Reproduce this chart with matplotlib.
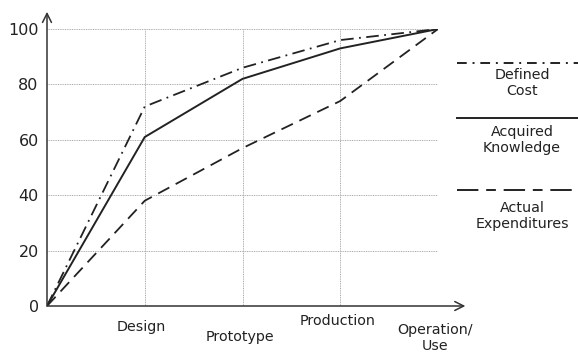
import matplotlib
matplotlib.use("Agg")
import matplotlib.pyplot as plt
from matplotlib.lines import Line2D

phases = ["Design", "Prototype", "Production", "Operation/\nUse"]
x_vals = [0, 1, 2, 3, 4]
defined_cost = [0, 72, 86, 96, 100]
acquired_knowledge = [0, 61, 82, 93, 100]
actual_expenditures = [0, 38, 57, 74, 100]
y_ticks = [0, 20, 40, 60, 80, 100]
legend_labels = ["Defined\nCost", "Acquired\nKnowledge", "Actual\nExpenditures"]

W, H = 578, 356
fig = plt.figure(figsize=(W / 100, H / 100), dpi=100)
plt.rcParams['font.family'] = ['DejaVu Sans']
ax = fig.add_axes([47 / W, (H - 306) / H, (438 - 47) / W, (306 - 29) / H])
ax.set_xlim(0, 4)
ax.set_ylim(0, 100)
for s in ax.spines.values():
    s.set_visible(False)

ax.set_yticks(y_ticks)
ax.set_yticklabels([str(v) for v in y_ticks], fontsize=11.5, color="#222222")
ax.tick_params(axis='y', length=0, pad=6)
ax.set_xticks([])

# gridlines
for yv in y_ticks[1:]:
    ax.plot([0, 4], [yv, yv], ls=(0, (1, 0.8)), lw=0.7, color="#aaaaaa", zorder=1)
for xv in x_vals[1:]:
    ax.plot([xv, xv], [0, 100], ls=(0, (1, 0.8)), lw=0.7, color="#aaaaaa", zorder=1)

ax.plot(x_vals, defined_cost, color="#222222", lw=1.3, ls=(0, (7, 3, 1, 3)), zorder=3)
ax.plot(x_vals, acquired_knowledge, color="#222222", lw=1.4, ls="-", zorder=3)
ax.plot(x_vals, actual_expenditures, color="#222222", lw=1.3, ls=(0, (7, 4)), zorder=3)

# axes arrows
ax.annotate("", xy=(0, 1.062), xytext=(0, 0), xycoords="axes fraction",
            arrowprops=dict(arrowstyle="->", lw=1.1, color="#333333",
                            shrinkA=0, shrinkB=0, mutation_scale=16), annotation_clip=False)
ax.annotate("", xy=(1.07, 0), xytext=(0, 0), xycoords="axes fraction",
            arrowprops=dict(arrowstyle="->", lw=1.1, color="#333333",
                            shrinkA=0, shrinkB=0, mutation_scale=16), annotation_clip=False)

# staggered x labels (offset in pixels below the axis)
offsets = [21, 31, 15, 32]
for xv, lab, off in zip(x_vals[1:], phases, offsets):
    ax.annotate(lab, xy=(xv, 0), xycoords=("data", "axes fraction"),
                xytext=(-3, -off), textcoords="offset pixels",
                ha="center", va="center", fontsize=10.3, color="#222222",
                linespacing=1.15, annotation_clip=False)

# legend on right
legend_styles = [(0, (5, 3, 1, 3)), "-", (0, (11, 4, 5, 4))]
line_y = [63, 118, 190]
text_y = [83, 140, 216]
for st, ly, lab, ty in zip(legend_styles, line_y, legend_labels, text_y):
    fig.add_artist(Line2D([457 / W, 1.0], [(H - ly) / H] * 2, color="#222222",
                          lw=1.4, ls=st, transform=fig.transFigure))
    fig.text(522 / W, (H - ty) / H, lab, ha="center", va="center",
             fontsize=10.3, color="#222222", linespacing=1.25)

fig.savefig("out.png", dpi=100)
